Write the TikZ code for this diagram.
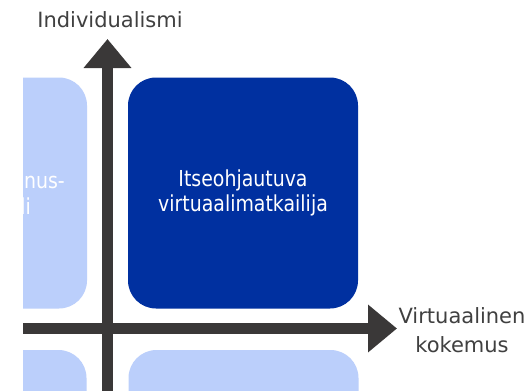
\documentclass[tikz,border=0pt]{standalone}
\usepackage{fontspec}
\setmainfont{DejaVu Sans}
\newfontfamily\boxfont[FakeStretch=0.86]{DejaVu Sans}
\usetikzlibrary{arrows.meta}
\definecolor{axisgray}{HTML}{3A3838}
\definecolor{labelgray}{HTML}{404040}
\definecolor{darkblue}{HTML}{0030A0}
\definecolor{lightblue}{HTML}{BBCFFB}
\begin{document}
\begin{tikzpicture}[x=1pt,y=-1pt,
  quad/.style={rounded corners=28pt, minimum width=230pt, minimum height=231pt,
    inner sep=0pt, draw=none, outer sep=0pt},
  boxtext/.style={text=white, font=\boxfont\fontsize{22}{25}\selectfont, inner sep=0pt},
  axislabel/.style={text=labelgray, font=\fontsize{21}{29}\selectfont, align=center, inner sep=0pt},
  axis/.style={draw=axisgray, line width=11pt, line cap=butt,
    -{Triangle[width=46pt,length=29pt]}}]
\useasboundingbox (0,0) rectangle (531,391);
\fill[white] (0,0) rectangle (531,391);
\begin{scope}
  \clip (23,0) rectangle (531,391);
  \node[quad, fill=lightblue] (tl) at (-28,193) {};
  \node[quad, fill=darkblue, text=white, align=center,
        font=\boxfont\fontsize{22}{25}\selectfont] (tr) at (243,193)
        {Itseohjautuva\\virtuaalimatkailija};
  \node[quad, fill=lightblue] (bl) at (-28.5,465.5) {};
  \node[quad, fill=lightblue] (br) at (243.5,465.5) {};
  \node[boxtext, anchor=base east] (tl1) at (65,188) {nus-};
  \node[boxtext, anchor=base east] (tl2) at (31,214) {li};
  \coordinate (yb) at (107.5,400);
  \coordinate (yt) at (107.5,39);
  \coordinate (xl) at (10,328.5);
  \coordinate (xr) at (397,328.5);
  \draw[axis] (yb) -- (yt);
  \draw[axis] (xl) -- (xr);
\end{scope}
\node[axislabel, anchor=base] (ylab) at (110,27) {Individualismi};
\node[axislabel] (xlab) at (462,330) {Virtuaalinen\\kokemus};
\end{tikzpicture}
\end{document}
